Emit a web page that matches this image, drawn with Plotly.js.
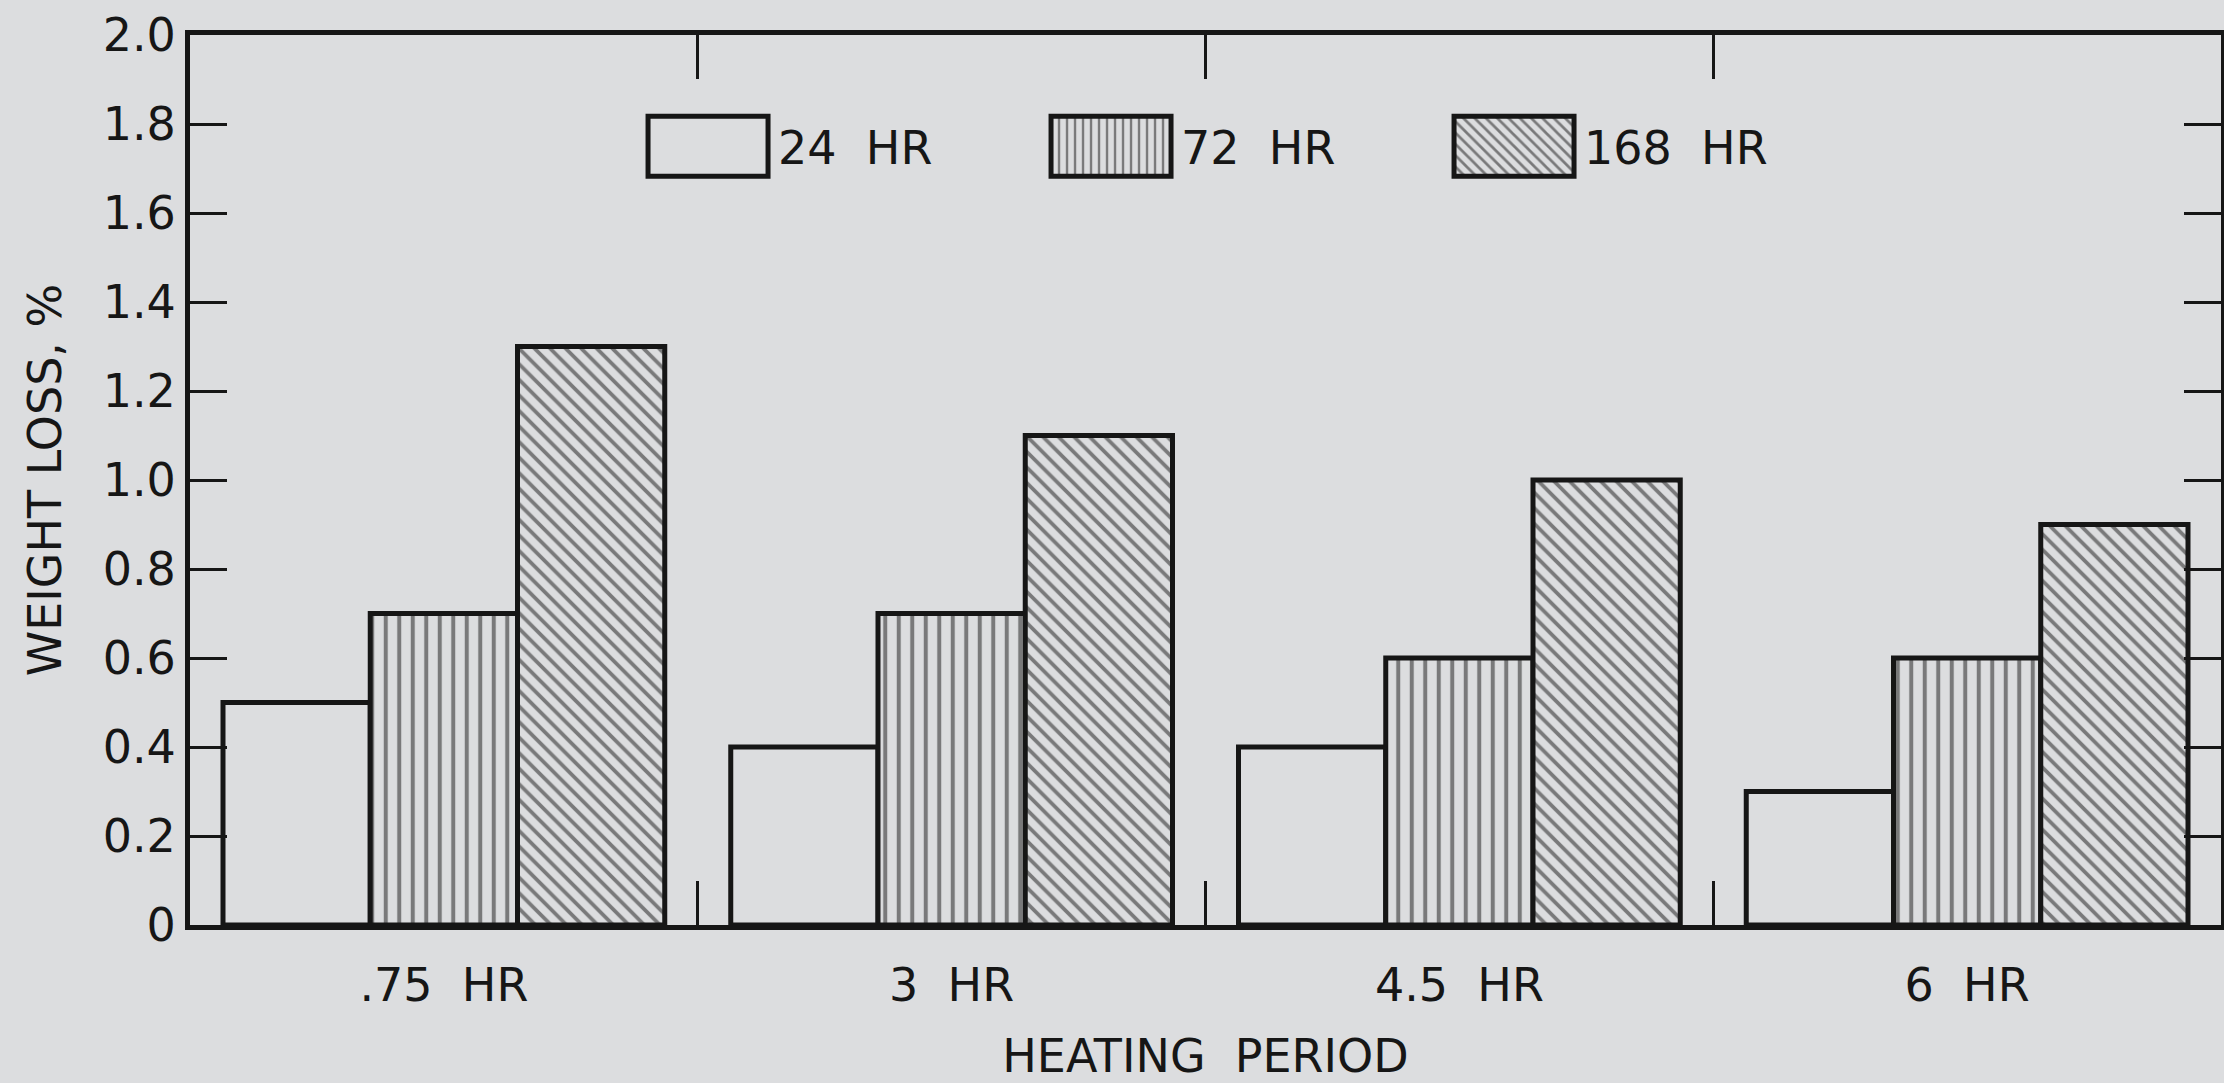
<!DOCTYPE html>
<html>
<head>
<meta charset="utf-8">
<script src="https://cdn.plot.ly/plotly-3.0.1.min.js"></script>
<style>
html,body{margin:0;padding:0;background:#dcdddf;}
#chart{width:2224px;height:1083px;}
</style>
</head>
<body>
<div id="chart"></div>
<script>
// ---- data ----
const categories = ['.75\u00a0\u00a0HR', '3\u00a0\u00a0HR', '4.5\u00a0\u00a0HR', '6\u00a0\u00a0HR'];
const seriesNames = ['24\u00a0\u00a0HR', '72\u00a0\u00a0HR', '168\u00a0\u00a0HR'];
const loss24 = [0.5, 0.4, 0.4, 0.3];
const loss72 = [0.7, 0.7, 0.6, 0.6];
const loss168 = [1.3, 1.1, 1.0, 0.9];
const yTickVals = [0, 0.2, 0.4, 0.6, 0.8, 1.0, 1.2, 1.4, 1.6, 1.8, 2.0];
const yTickText = ['0', '0.2', '0.4', '0.6', '0.8', '1.0', '1.2', '1.4', '1.6', '1.8', '2.0'];
const xTitle = 'HEATING\u00a0\u00a0PERIOD';
const yTitle = 'WEIGHT LOSS, %';

// ---- styling ----
const BG = '#dcdddf';
const INK = '#161616';
const FONT = {family: 'DejaVu Sans, sans-serif', size: 46, color: INK};

function barTrace(name, values, shape, size, solidity) {
  const t = {
    type: 'bar',
    name: name,
    x: categories,
    y: values,
    marker: {color: BG, line: {color: INK, width: 5}},
    hoverinfo: 'skip'
  };
  if (shape) {
    t.marker.pattern = {shape: shape, size: size, solidity: solidity,
                        fgcolor: INK, bgcolor: BG, fillmode: 'overlay'};
  }
  return t;
}

const traces = [
  barTrace(seriesNames[0], loss24, null),
  barTrace(seriesNames[1], loss72, '|', 13.5, 0.3),
  barTrace(seriesNames[2], loss168, '\\', 11, 0.34)
];

const layout = {
  width: 2224,
  height: 1083,
  paper_bgcolor: BG,
  plot_bgcolor: BG,
  font: FONT,
  margin: {l: 190, r: 3, t: 35, b: 158, pad: 0},
  barmode: 'group',
  bargap: 0.13,
  bargroupgap: 0,
  showlegend: true,
  legend: {
    orientation: 'h',
    x: 0.2206,
    xanchor: 'left',
    y: 0.875,
    yanchor: 'middle',
    bgcolor: 'rgba(0,0,0,0)',
    borderwidth: 0,
    font: FONT,
    itemwidth: 130,
    entrywidth: 258,
    entrywidthmode: 'pixels',
    traceorder: 'normal',
    itemclick: false,
    itemdoubleclick: false
  },
  xaxis: {
    type: 'category',
    showline: true,
    linecolor: INK,
    linewidth: 5,
    mirror: 'ticks',
    ticks: 'inside',
    tickson: 'boundaries',
    ticklen: 44,
    tickwidth: 3,
    tickcolor: INK,
    showgrid: false,
    zeroline: false,
    tickfont: FONT,
    ticklabelstandoff: 16,
    title: {text: xTitle, font: FONT, standoff: 40},
    automargin: false
  },
  yaxis: {
    range: [0, 2.0],
    tickmode: 'array',
    tickvals: yTickVals,
    ticktext: yTickText,
    showline: true,
    linecolor: INK,
    linewidth: 5,
    mirror: 'ticks',
    ticks: 'inside',
    ticklen: 37,
    tickwidth: 3,
    tickcolor: INK,
    showgrid: false,
    zeroline: false,
    tickfont: FONT,
    ticklabelstandoff: 0,
    title: {text: yTitle, font: FONT, standoff: 28},
    automargin: false
  }
};

Plotly.newPlot('chart', traces, layout, {staticPlot: true, displayModeBar: false}).then(function (gd) {
  // enlarge the legend swatches to the reference's large boxes
  const paths = gd.querySelectorAll('.legend .traces .legendpoints path');
  paths.forEach(function (p) {
    p.setAttribute('d', 'M60,30H-60V-30H60Z');
    p.style.strokeWidth = '5px';
  });
});
</script>
</body>
</html>
